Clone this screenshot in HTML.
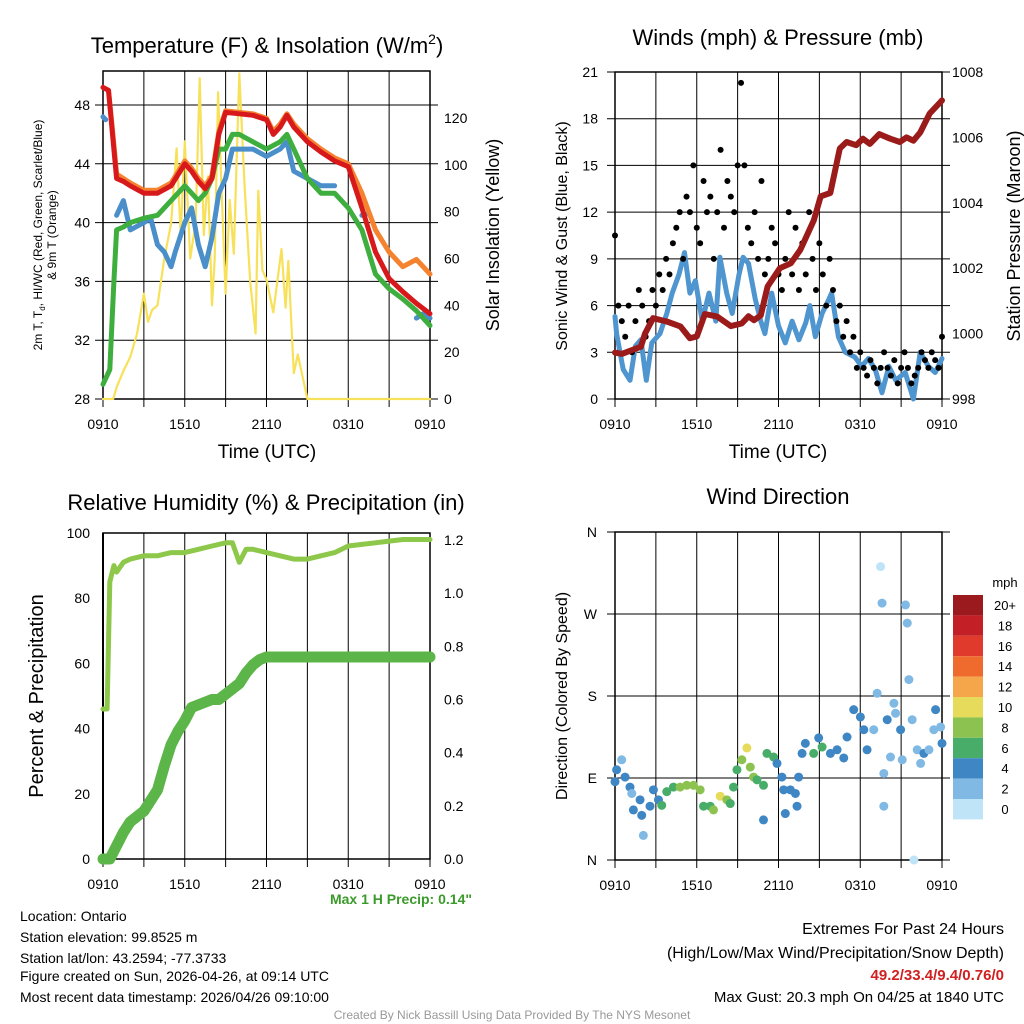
<!DOCTYPE html>
<html><head><meta charset="utf-8"><style>
body{margin:0;background:#fff;}
svg{display:block;font-family:"Liberation Sans",Arial,sans-serif;}
</style></head><body>
<svg id="s" width="1024" height="1024" viewBox="0 0 1024 1024" xmlns="http://www.w3.org/2000/svg">
<rect width="1024" height="1024" fill="#fff"/>
<g id="g1"></g>
<g id="g2"></g>
<g id="g3"></g>
<g id="g4"></g>
<text x="267" y="53" font-size="22" text-anchor="middle">Temperature (F) &amp; Insolation (W/m<tspan font-size="14" dy="-9">2</tspan><tspan dy="9">)</tspan></text>
<text x="778" y="45" font-size="22" text-anchor="middle">Winds (mph) &amp; Pressure (mb)</text>
<text x="266" y="510" font-size="22" text-anchor="middle">Relative Humidity (%) &amp; Precipitation (in)</text>
<text x="778" y="504" font-size="22" text-anchor="middle">Wind Direction</text>
<text x="267" y="458" font-size="19" text-anchor="middle">Time (UTC)</text>
<text x="778" y="458" font-size="19" text-anchor="middle">Time (UTC)</text>
<text transform="translate(42,235) rotate(-90)" font-size="12" text-anchor="middle">2m T, T<tspan font-size="8" dy="3">d</tspan><tspan dy="-3">, HI/WC (Red, Green, Scarlet/Blue)</tspan></text>
<text transform="translate(56,235) rotate(-90)" font-size="12" text-anchor="middle">&amp; 9m T (Orange)</text>
<text transform="translate(499,235) rotate(-90)" font-size="18" text-anchor="middle">Solar Insolation (Yellow)</text>
<text transform="translate(567,236) rotate(-90)" font-size="16" text-anchor="middle">Sonic Wind &amp; Gust (Blue, Black)</text>
<text transform="translate(1020,236) rotate(-90)" font-size="18" text-anchor="middle">Station Pressure (Maroon)</text>
<text transform="translate(43,696) rotate(-90)" font-size="20" text-anchor="middle">Percent &amp; Precipitation</text>
<text transform="translate(567,696) rotate(-90)" font-size="16" text-anchor="middle">Direction (Colored By Speed)</text>
<text x="472" y="904" font-size="14" font-weight="bold" fill="#3a9a2a" text-anchor="end">Max 1 H Precip: 0.14"</text>
<g font-size="14">
<text x="20" y="921">Location: Ontario</text>
<text x="20" y="942">Station elevation: 99.8525 m</text>
<text x="20" y="963">Station lat/lon: 43.2594; -77.3733</text>
<text x="20" y="981">Figure created on Sun, 2026-04-26, at 09:14 UTC</text>
<text x="20" y="1002">Most recent data timestamp: 2026/04/26 09:10:00</text>
</g>
<g font-size="16" text-anchor="end">
<text x="1004" y="934">Extremes For Past 24 Hours</text>
<text x="1004" y="958">(High/Low/Max Wind/Precipitation/Snow Depth)</text>
<text x="1004" y="980" font-size="15" font-weight="bold" fill="#d02020">49.2/33.4/9.4/0.76/0</text>
<text x="1004" y="1002" font-size="15">Max Gust: 20.3 mph On 04/25 at 1840 UTC</text>
</g>
<text x="512" y="1019" font-size="12" fill="#999" text-anchor="middle">Created By Nick Bassill Using Data Provided By The NYS Mesonet</text>
</svg>
<script>
// ---- data ----
const xTickLabels = ["0910","1510","2110","0310","0910"];
const redT = [0,0.4,0.7,1,1.5,2,3,4,5,6,6.5,7,7.5,8,8.5,9,10,11,12,12.5,13,13.5,14,15,16,17,18,19,20,21,22,23,24];
const redV = [49.2,49,46,43,42.8,42.5,42,42,42.5,44,43.5,42.8,42.3,43,46,47.5,47.4,47.3,47,46,46.5,47.3,46.5,45.5,44.8,44.2,43.8,41,38,36.2,35.3,34.5,33.8];
const orangeV = [49.2,49,46.3,43.3,43,42.7,42.2,42.2,42.7,44.2,43.7,43,42.5,43.2,46.2,47.6,47.5,47.4,47.1,46.2,46.7,47.4,46.7,45.7,45,44.4,44,42,39.5,38,37,37.5,36.5];
const greenT = [0,0.5,0.8,1,1.5,2,3,4,5,6,7,7.5,8,8.5,9,9.5,10,11,12,13,13.5,14,15,16,17,18,19,20,21,22,23,24];
const greenV = [29,30,36,39.5,39.7,40,40.3,40.5,41.5,42.5,41.5,42,43,45,45,46,46,45.5,45,45.5,46,45,43,42,42,41,39.5,36.5,35.5,34.8,34,33];
const blueT = [0,0.2,null,1,1.5,2,3,3.5,4,4.5,5,5.3,6,6.5,7,7.5,8,8.5,9,9.5,10,11,12,13,13.5,14,15,16,17,null,19,19.4,null,23,23.5,24];
const blueV = [47.2,47,null,40.5,41.5,39.5,40,40.3,38.5,38,37,38,40,41,38.5,37,39,42,43,45,45,45,44.5,45,45.5,43.5,43,42.5,42.5,null,40.5,40.6,null,33.5,33.8,33.5];
const insT = [0,0.75,1,1.5,2,2.5,3,3.3,3.6,4,4.5,5,5.4,5.7,6,6.4,6.8,7.1,7.4,7.7,8,8.2,8.45,8.7,9,9.3,9.6,10,10.4,10.8,11.2,11.4,11.7,12,12.5,13.1,13.4,13.6,14,14.3,15,24];
const insV = [0,0,5,12,18,28,45,33,38,40,60,75,107,70,110,60,75,137,70,95,40,60,131,90,45,85,62,139,90,50,28,89,55,51,37,64,39,59,11,19,0,0];
const tempTicks = [28,32,36,40,44,48];
const insTicks = [0,20,40,60,80,100,120];

const presT = [0,0.5,1.9,2.2,2.8,3.8,4.8,5.5,6,6.6,7.5,8.5,9.3,9.8,10.2,10.7,11.2,12.1,12.9,13.6,14.6,15.1,15.8,16.5,17,17.7,18.2,18.7,19.4,20.2,20.9,21.4,21.9,22.4,23.1,24];
const presV = [999.42,999.38,999.6,1000,1000.47,1000.37,1000.22,999.86,999.91,1000.6,1000.52,1000.23,1000.31,1000.53,1000.41,1000.56,1001.44,1002,1002.15,1002.56,1003.47,1004.2,1004.3,1005.66,1005.86,1005.76,1005.96,1005.8,1006.1,1005.96,1005.86,1006,1005.9,1006.15,1006.73,1007.13];
const windT = [0,0.12,0.37,0.6,1.1,1.5,1.9,2.3,2.7,3.3,3.8,4.2,4.7,5.1,5.5,5.9,6.4,6.9,7.4,7.7,8.2,8.6,9.1,9.4,9.8,10.3,10.7,11,11.5,12,12.5,13,13.5,14,14.3,14.7,15.2,15.7,15.9,16.4,16.9,17.6,18.1,18.6,19.1,19.6,20.1,20.6,21.3,21.9,22.4,23,23.5,24];
const windV = [5.3,4.2,3,1.9,1.2,3.4,3.8,1.2,3.6,4.2,5.5,6.8,8,9.4,6.8,7.6,5,6.8,5,9.1,6.8,5.5,8,9.1,8.7,6.4,5,4.2,6.8,4.7,3.6,5,3.8,4.9,6,4,5.5,6.4,6.8,4,3,2.7,2.1,2.6,1.9,0.4,2.1,1.2,1.7,0,3,2.1,1.7,2.6];
const gustV = [10.5,6,5,4,6,3,5,7,6,4,5,7,6,8,7,9,8,10,11,12,9,13,12,15,11,10,14,12,13,9,12,16,11,14,13,12,15,20.3,15,11,10,12,9,14,8,9,11,10,8,7,9,12,8,11,7,10,8,12,9,7,10,8,6,9,7,5,6,4,5,3,4,2,3,2,1.5,2.5,2,1,2,3,2,1.5,2.5,1,2,3,2,1,1.5,2,3,2.5,2,3,2.5,2,4];
const windTicks = [0,3,6,9,12,15,18,21];
const presTicks = [998,1000,1002,1004,1006,1008];

const rhT = [0,0.3,0.5,0.8,1,1.5,2,3,4,5,6,7,8,9,9.5,10,10.5,11,12,13,14,15,16,17,18,19,20,21,22,23,24];
const rhV = [46,46,85,90,88,91,92,93,93,94,94,95,96,97,97,91,95,95,94,93,92,92,93,94,96,96.5,97,97.5,98,98,98];
const prT = [0,0.5,1,1.5,2,3,4,4.5,5,5.5,6,6.5,7,8,8.5,9,10,10.5,11,11.5,12,13,24];
const prV = [0,0,0.05,0.1,0.14,0.18,0.26,0.35,0.43,0.48,0.52,0.57,0.58,0.6,0.6,0.62,0.66,0.7,0.73,0.75,0.76,0.76,0.76];
const rhTicks = [0,20,40,60,80,100];
const prTicks = [0,0.2,0.4,0.6,0.8,1.0,1.2];

const dirT = [0,0.12,0.49,0.74,1.1,1.23,1.35,1.84,1.96,2.08,2.57,2.82,3.19,3.43,3.8,4.29,4.78,5.27,5.76,6.25,6.5,6.99,7.23,7.72,8.21,8.46,8.7,8.95,9.31,9.68,9.93,10.17,10.42,10.9,10.9,11.15,11.64,11.89,12.25,12.38,12.5,12.87,13.24,13.36,13.48,13.73,13.97,14.58,14.95,15.2,15.81,16.3,16.79,17.03,17.52,18.01,18.26,18.5,18.99,19.24,19.49,19.6,19.73,19.73,19.98,20.22,20.47,20.59,20.96,21.08,21.32,21.45,21.57,21.81,21.94,22.18,22.43,22.67,23.04,23.4,23.53,23.9,24];
const dirV = [86,99,110,91,80,73,55,66,49,27,59,77,66,60,75,80,80,82,82,77,59,59,55,70,66,62,80,99,110,123,102,91,88,82,44,117,113,106,91,77,51,77,73,59,91,117,128,117,134,124,117,121,112,135,165,157,143,121,143,183,322,282,95,59,154,113,172,161,143,110,280,260,198,154,0,121,106,117,121,143,165,146,128];
const dirS = [3,3,2,3,3,2,4,4,3,1,3,4,4,5,6,6,7,7,8,8,5,6,8,9,8,6,6,5,8,9,8,7,6,5,4,6,5,4,4,4,3,4,4,4,4,4,4,6,4,5,4,4,3,3,3,3,3,3,2,1,0,1,1,1,3,2,1,2,3,2,1,1,1,1,0,2,2,3,2,2,3,2,3];
const dirTickLabels = ["N","E","S","W","N"];
const speedLabels = ["20+","18","16","14","12","10","8","6","4","2","0"];
const speedColors = ["#9b1a1d","#c21f26","#e03a2c","#ef6a2d","#f6a64a","#e6db5a","#8cc350","#48ad68","#3f86c4","#80b9e4","#bfe4f7"];

// ---- helpers ----
const NS="http://www.w3.org/2000/svg";
function mk(parent,tag,attrs){const e=document.createElementNS(NS,tag);for(const k in attrs)e.setAttribute(k,attrs[k]);parent.appendChild(e);return e;}
function lin(d0,d1,p0,p1){return v=>p0+(v-d0)*(p1-p0)/(d1-d0);}
function frame(g,L,R,T,B){
  for(let i=0;i<=8;i++){const x=L+(R-L)*i/8;const l=mk(g,'line',{x1:x,x2:x,y1:T,y2:B+8,stroke:'#000','stroke-width':1});
  
  }
  const r=mk(g,'rect',{x:L,y:T,width:R-L,height:B-T,fill:'none',stroke:'#000','stroke-width':1.5});
  
  
  xTickLabels.forEach((s,i)=>{const t=mk(g,'text',{x:L+(R-L)*i/4,y:B+30,'font-size':14,'text-anchor':'middle'});t.textContent=s;
  
  });
}
function yAxis(g,ticks,sc,x,anchor,L,R,grid,fmt){
  ticks.forEach(v=>{const y=sc(v);
    if(grid){const l=mk(g,'line',{x1:L-8,x2:R+8,y1:y,y2:y,stroke:'#000','stroke-width':1});
    
    }
    const t=mk(g,'text',{x:x,y:y+5,'font-size':14,'text-anchor':anchor});t.textContent=fmt?fmt(v):v;
    
    });
}
function path(g,T,V,xs,ys,color,w,name){
  let d='',pen=false;
  for(let i=0;i<T.length;i++){if(T[i]===null||V[i]===null){pen=false;continue;}
    d+=(pen?'L':'M')+xs(T[i]).toFixed(1)+' '+ys(V[i]).toFixed(1);pen=true;}
  const p=mk(g,'path',{d:d,fill:'none',stroke:color,'stroke-width':w,'stroke-linejoin':'round','stroke-linecap':'round'});
  
  
}

// ---- panel 1 ----
{const g=document.getElementById('g1');const L=103,R=430,T=71,B=399;
 const xs=lin(0,24,L,R),ys=lin(28,48,B,105),yi=lin(0,120,B,118);
 frame(g,L,R,T,B);
 yAxis(g,tempTicks,ys,90,'end',L,R,true);
 yAxis(g,insTicks,yi,444,'start',L,R,false);
 path(g,insT,insV,xs,yi,'#f7e15a',2.2,'insolation-line');
 path(g,blueT,blueV,xs,ys,'#4a8fc9',5,'heat-index-line');
 path(g,greenT,greenV,xs,ys,'#3eae3e',5,'dewpoint-line');
 path(g,redT,orangeV,xs,ys,'#f5822f',5,'temp-9m-line');
 path(g,redT,redV,xs,ys,'#d7191c',5,'temp-2m-line');
}
// ---- panel 2 ----
{const g=document.getElementById('g2');const L=615,R=942,T=72,B=399;
 const xs=lin(0,24,L,R),ys=lin(0,21,B,T),yp=lin(998,1008,B,T);
 frame(g,L,R,T,B);
 yAxis(g,windTicks,ys,598,'end',L,R,true);
 yAxis(g,presTicks,yp,952,'start',L,R,false);
 path(g,windT,windV,xs,ys,'#4f95cf',5,'sonic-wind-line');
 gustV.forEach((v,i)=>{const c=mk(g,'circle',{cx:xs(i*24/(gustV.length-1)),cy:ys(v),r:3,fill:'#000'});
 
 });
 path(g,presT,presV,xs,yp,'#9b1a1a',6,'pressure-line');
}
// ---- panel 3 ----
{const g=document.getElementById('g3');const L=103,R=430,T=533,B=859;
 const xs=lin(0,24,L,R),ys=lin(0,100,B,T),yp=lin(0,1.2,B,540);
 frame(g,L,R,T,B);
 yAxis(g,rhTicks,ys,90,'end',L,R,false);
 yAxis(g,prTicks,yp,444,'start',L,R,false,v=>v.toFixed(1));
 const ax=mk(g,'line',{x1:L,x2:L,y1:T,y2:B,stroke:'#000','stroke-width':2});
 
 
 path(g,prT,prV,xs,yp,'#5cb548',11,'precip-line');
 path(g,rhT,rhV,xs,ys,'#8dc84a',5,'rh-line');
}
// ---- panel 4 ----
{const g=document.getElementById('g4');const L=615,R=942,T=532,B=860;
 const xs=lin(0,24,L,R),ys=lin(0,360,B,T);
 frame(g,L,R,T,B);
 dirTickLabels.forEach((s,i)=>{const y=ys(i*90);
  const l=mk(g,'line',{x1:L-8,x2:R+8,y1:y,y2:y,stroke:'#000','stroke-width':1});
  
  
  const t=mk(g,'text',{x:597,y:y+5,'font-size':14,'text-anchor':'end'});t.textContent=s;
  
  });
 dirT.forEach((t,i)=>{const k=Math.max(0,Math.min(10,Math.round(dirS[i]/2)));
  const c=mk(g,'circle',{cx:xs(t),cy:ys(dirV[i]),r:4.5,fill:speedColors[10-k]});
  
  });
 const cb=mk(g,'g',{});
 
 
 const u=mk(cb,'text',{x:1005,y:587,'font-size':13,'text-anchor':'middle'});u.textContent='mph';
 
 
 speedLabels.forEach((s,i)=>{const y=595+i*20.4;
  const r=mk(cb,'rect',{x:953,y:y,width:30,height:20.4,fill:speedColors[i]});
  
  
  const t=mk(cb,'text',{x:1005,y:y+15,'font-size':13,'text-anchor':'middle'});t.textContent=s;
  
  });
}
</script>
</body></html>
